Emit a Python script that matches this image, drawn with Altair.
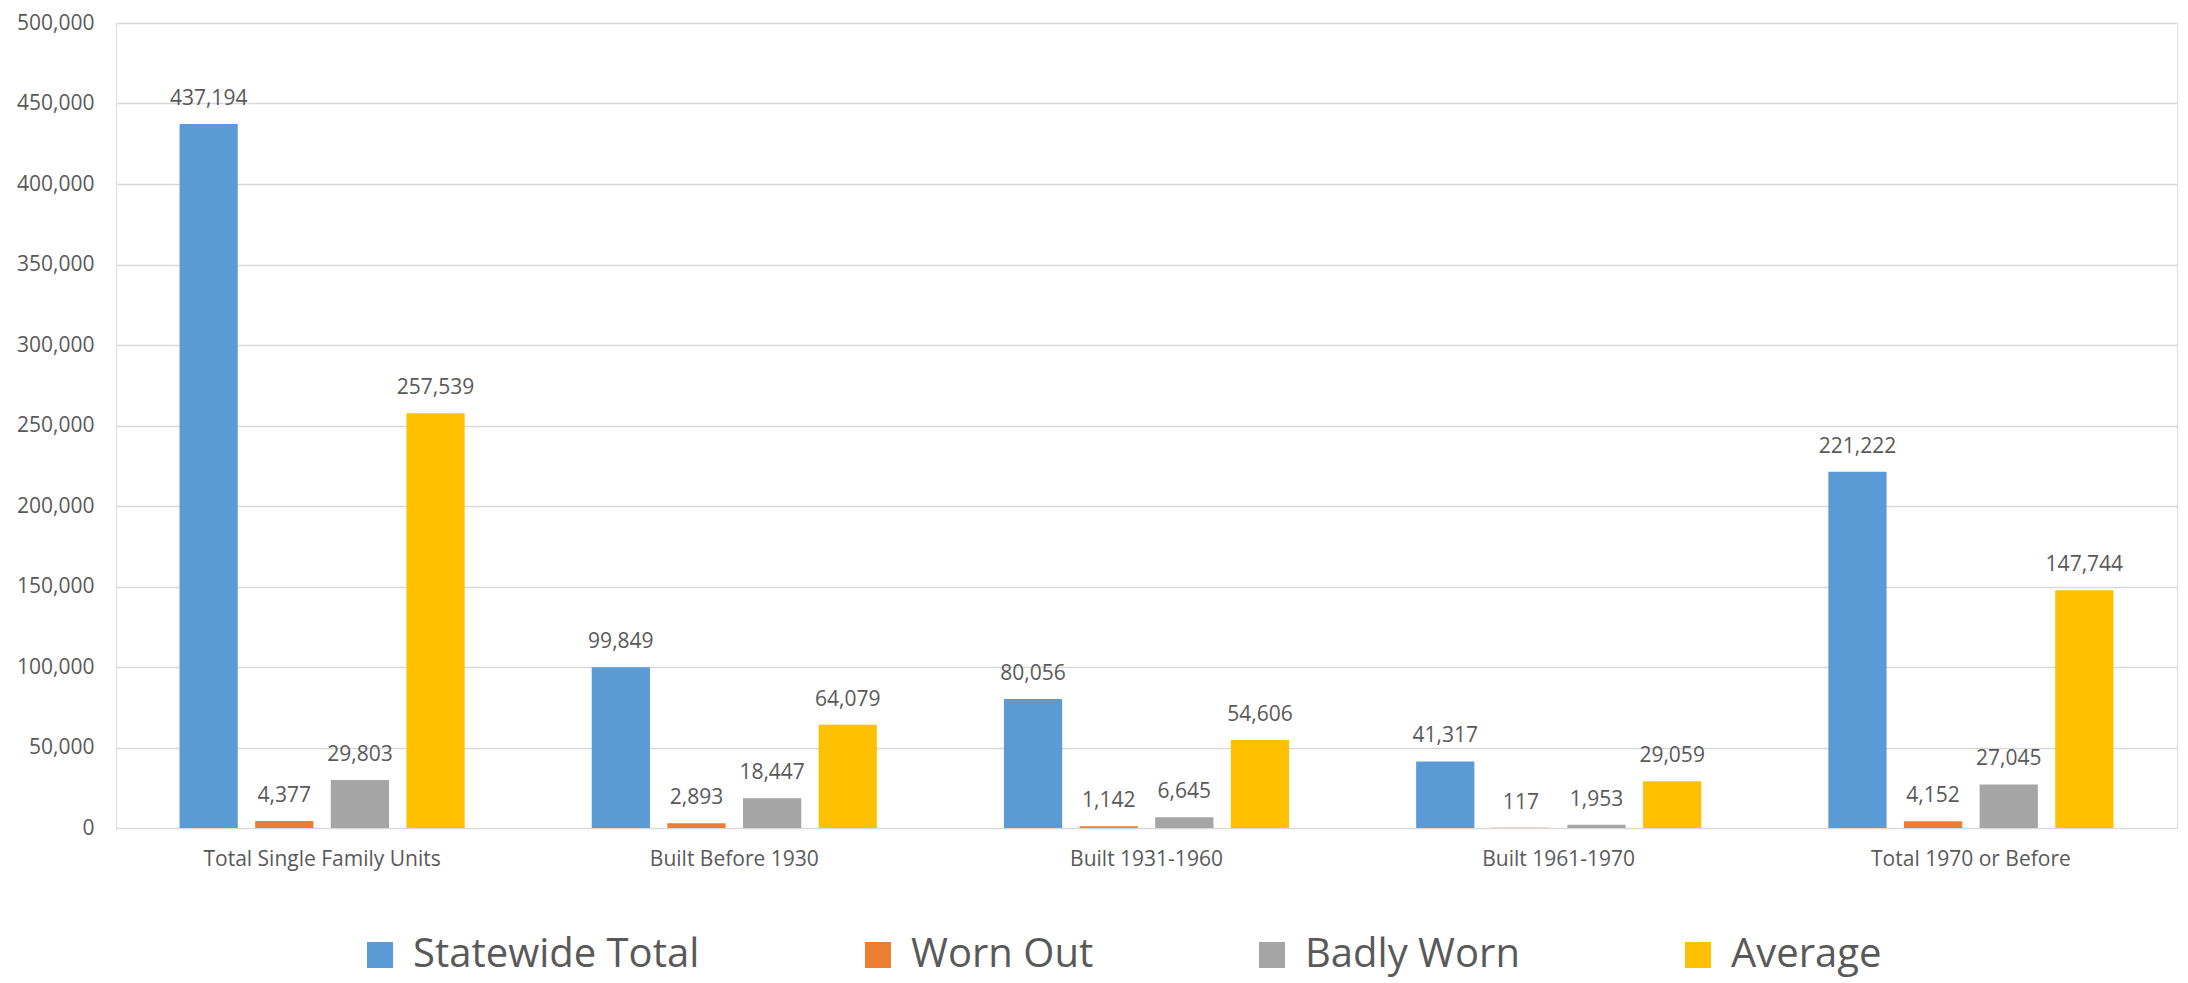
import altair as alt
import pandas as pd

# Single family housing units by age of construction and condition
categories = [
    "Total Single Family Units",
    "Built Before 1930",
    "Built 1931-1960",
    "Built 1961-1970",
    "Total 1970 or Before",
]
series_names = ["Statewide Total", "Worn Out", "Badly Worn", "Average"]
statewide_total = [437194, 99849, 80056, 41317, 221222]
worn_out = [4377, 2893, 1142, 117, 4152]
badly_worn = [29803, 18447, 6645, 1953, 27045]
average = [257539, 64079, 54606, 29059, 147744]
series_colors = ["#5B9BD5", "#ED7D31", "#A5A5A5", "#FFC000"]
y_ticks = list(range(0, 500001, 50000))

rows = []
for name, values in zip(series_names, [statewide_total, worn_out, badly_worn, average]):
    for cat, v in zip(categories, values):
        rows.append({"category": cat, "series": name, "value": v})
df = pd.DataFrame(rows)

FONT = "Open Sans"
TEXT_COLOR = "#595959"
GRID_COLOR = "#D9D9D9"

x_enc = alt.X(
    "category:N",
    sort=categories,
    scale=alt.Scale(paddingInner=0, paddingOuter=0),
    axis=alt.Axis(
        title=None,
        labelAngle=0,
        labelFont=FONT,
        labelFontSize=21,
        labelColor=TEXT_COLOR,
        labelPadding=20,
        labelLimit=500,
        ticks=False,
        domain=False,
        grid=False,
    ),
)
x_off = alt.XOffset(
    "series:N",
    sort=series_names,
    scale=alt.Scale(paddingInner=0.23, paddingOuter=0.84),
)
y_enc = alt.Y(
    "value:Q",
    scale=alt.Scale(domain=[0, 500000], nice=False),
    axis=alt.Axis(
        title=None,
        values=y_ticks,
        format=",d",
        labelFont=FONT,
        labelFontSize=21,
        labelColor=TEXT_COLOR,
        labelPadding=22,
        ticks=False,
        domain=False,
        grid=True,
        gridColor=GRID_COLOR,
        gridWidth=1.6,
    ),
)
color_enc = alt.Color(
    "series:N",
    sort=series_names,
    scale=alt.Scale(domain=series_names, range=series_colors),
    legend=alt.Legend(
        title=None,
        orient="none",
        direction="horizontal",
        legendX=244,
        legendY=912,
        symbolType="square",
        symbolSize=676,
        symbolStrokeWidth=0,
        symbolOpacity=1,
        labelFont=FONT,
        labelFontSize=40,
        labelColor=TEXT_COLOR,
        labelOffset=13,
        columnPadding=158,
        padding=0,
        labelLimit=600,
    ),
)

bars = alt.Chart(df).mark_bar(opacity=1).encode(
    x=x_enc, xOffset=x_off, y=y_enc, color=color_enc
)

labels = alt.Chart(df).mark_text(
    font=FONT, fontSize=21, color=TEXT_COLOR, baseline="alphabetic", dy=-19
).encode(
    x=alt.X("category:N", sort=categories),
    xOffset=alt.XOffset("series:N", sort=series_names),
    y=alt.Y("value:Q"),
    text=alt.Text("value:Q", format=",d"),
)

chart = (
    alt.layer(bars, labels)
    .properties(
        width=2061,
        height=805,
        padding={"left": 116, "top": 23, "right": 11, "bottom": 155},
        autosize=alt.AutoSizeParams(type="none"),
    )
    .configure_view(stroke=None)
    .configure(background="white")
)

chart.save("out.html", embed_options={"renderer": "svg", "actions": False})
